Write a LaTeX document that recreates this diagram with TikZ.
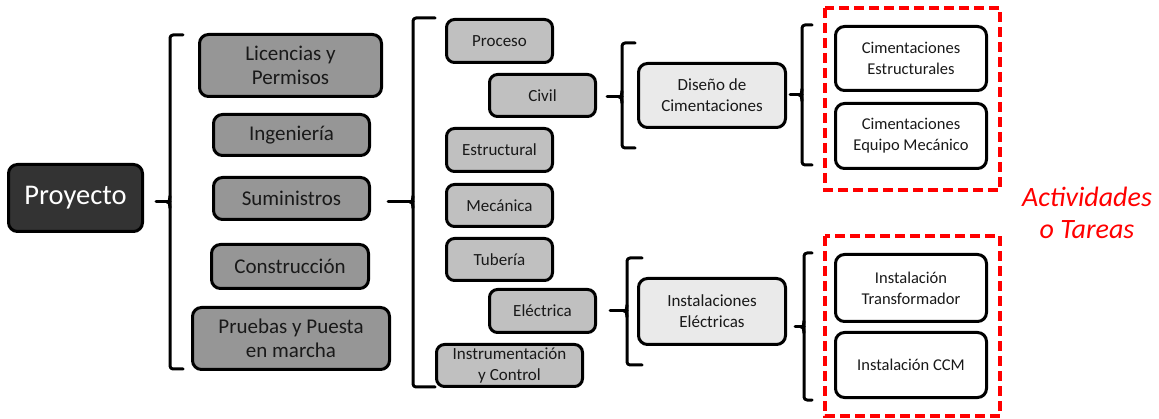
\documentclass[tikz,border=0pt]{standalone}
\usepackage{fontspec}
\setmainfont{Carlito}
\usetikzlibrary{calc}
\definecolor{lvA}{HTML}{969696}
\definecolor{lvB}{HTML}{C0C0C0}
\definecolor{lvC}{HTML}{EAEAEA}
\definecolor{lvP}{HTML}{333333}
\definecolor{redd}{HTML}{FF0000}
\tikzset{
  box/.style={draw=black, line width=3pt, rounded corners=9pt, inner sep=0pt, align=center, text=black!90},
  proj/.style={box, fill=lvP, text=white, font=\fontsize{28.5}{31}\selectfont},
  lone/.style={box, fill=lvA, font=\fontsize{21}{24}\selectfont},
  ltwo/.style={box, fill=lvB, rounded corners=8pt, font=\fontsize{17}{20.5}\selectfont},
  lthree/.style={box, fill=lvC, font=\fontsize{17}{21}\selectfont},
  lfour/.style={box, fill=white, font=\fontsize{16.5}{21}\selectfont},
  brk/.style={draw=black, line width=3pt, line cap=round, line join=round},
  redbox/.style={draw=redd, line width=3.5pt, dash pattern=on 10pt off 5pt},
}
\newcommand\mybrk[6]{%
  \coordinate (#6) at (#1,#5);
  \draw[brk, rounded corners=3pt] (#4,#2) -- (#1,#2) -- (#1,#3) -- (#4,#3);
  \draw[brk] (#1,#5-6) to[out=-90,in=0] (#1-3,#5) to[out=0,in=90] (#1,#5+6);
}
\begin{document}
\begin{tikzpicture}[x=1pt,y=-1pt]
\useasboundingbox (0,0) rectangle (1159,419);
% level 0
\node[proj, minimum width=134pt, minimum height=67pt] (proy) at (75.5,198) {Proyecto};
% level 1
\node[lone, minimum width=182pt, minimum height=62pt] (lic) at (290.5,65.5) {Licencias y\\Permisos};
\node[lone, minimum width=156pt, minimum height=41pt] (ing) at (291.5,135) {Ingeniería};
\node[lone, minimum width=156pt, minimum height=42pt] (sum) at (291.5,198.5) {Suministros};
\node[lone, minimum width=157pt, minimum height=44pt] (con) at (290,266.5) {Construcción};
\node[lone, minimum width=197pt, minimum height=62pt] (pru) at (291,338.5) {Pruebas y Puesta\\en marcha};
% level 2
\node[ltwo, minimum width=106pt, minimum height=43pt] (proc) at (499.5,41) {Proceso};
\node[ltwo, minimum width=106pt, minimum height=42pt] (civ) at (542.5,95.5) {Civil};
\node[ltwo, minimum width=106pt, minimum height=43pt] (est) at (499.5,150) {Estructural};
\node[ltwo, minimum width=106pt, minimum height=42pt] (mec) at (499.5,205.5) {Mecánica};
\node[ltwo, minimum width=106pt, minimum height=42pt] (tub) at (499.5,259.5) {Tubería};
\node[ltwo, minimum width=106pt, minimum height=43pt] (ele) at (542.5,311) {Eléctrica};
\node[ltwo, minimum width=146pt, minimum height=42pt] (ins) at (509.5,365.5) {Instrumentación\\y Control};
% level 3
\node[lthree, minimum width=147pt, minimum height=64pt] (dis) at (712,95.5) {Diseño de\\Cimentaciones};
\node[lthree, minimum width=147pt, minimum height=66pt] (iel) at (712,311.5) {Instalaciones\\Eléctricas};
% level 4
\node[lfour, minimum width=151pt, minimum height=64pt] (ce) at (911,58.5) {Cimentaciones\\Estructurales};
\node[lfour, minimum width=151pt, minimum height=65pt] (cm) at (911,136) {Cimentaciones\\Equipo Mecánico};
\node[lfour, minimum width=151pt, minimum height=67pt] (it) at (911,288) {Instalación\\Transformador};
\node[lfour, minimum width=151pt, minimum height=65pt] (ic) at (911,365) {Instalación CCM};
% red dashed frames
\draw[redbox] (825,8) rectangle (1000,190);
\draw[redbox] (825,236) rectangle (1000,416);
\node[text=redd, font=\fontsize{28}{32}\selectfont\itshape, align=center] (act) at (1087,213) {Actividades\\o Tareas};
% brackets
\mybrk{170}{35}{369}{183}{202}{n1}
\mybrk{413}{18}{387}{435}{202}{n2}
\mybrk{622}{43}{148}{635}{97}{n3}
\mybrk{627}{258}{365}{642}{311}{n4}
\mybrk{802}{25}{165}{812}{95}{n5}
\mybrk{804}{253}{400}{812}{327}{n6}
% ticks
\draw[brk, shorten <=12pt] (proy.east |- n1) -- (n1);
\draw[brk, shorten <=17pt] (sum.east |- n2) -- (n2);
\draw[brk, shorten <=10pt] (civ.east |- n3) -- (n3);
\draw[brk, shorten <=13pt] (ele.east |- n4) -- (n4);
\draw[brk, shorten <=3pt] (dis.east |- n5) -- (n5);
\draw[brk, shorten <=8pt] (iel.east |- n6) -- (n6);
\end{tikzpicture}
\end{document}
